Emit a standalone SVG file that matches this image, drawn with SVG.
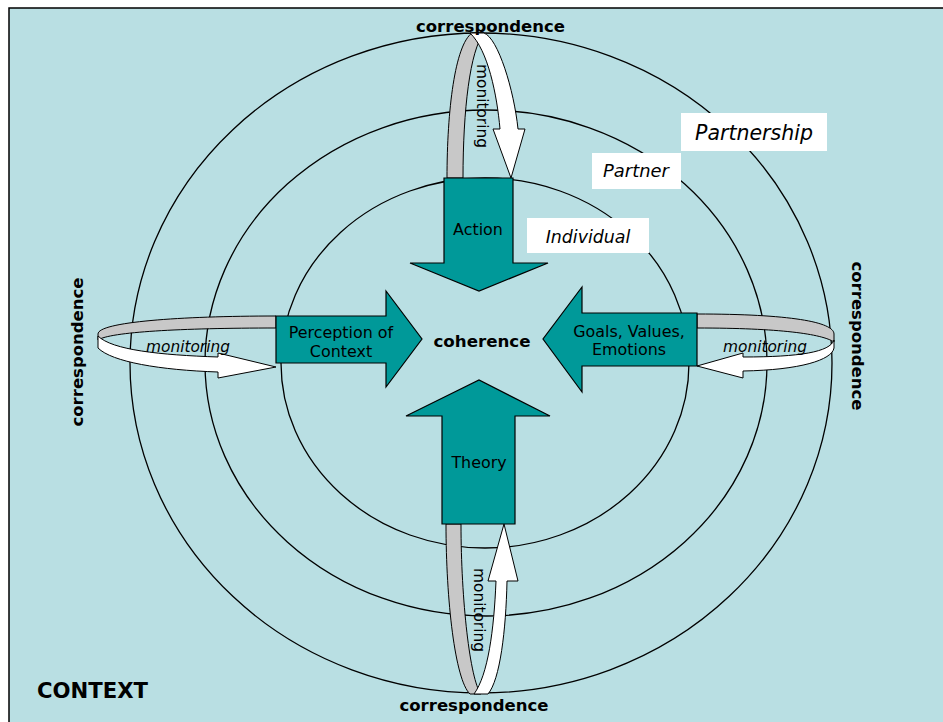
<svg xmlns="http://www.w3.org/2000/svg" width="943" height="722" viewBox="0 0 943 722">
<style>
.ring{fill:none;stroke:#000;stroke-width:1.3}
.arrow{fill:#009999;stroke:#000;stroke-width:1.2}
.back{fill:#C8C8C8;stroke:#000;stroke-width:1}
.front{fill:#FFFFFF;stroke:#000;stroke-width:1}
.lbl{fill:#FFFFFF;stroke:none}
text{font-family:"DejaVu Sans","Liberation Sans",sans-serif;fill:#000}
.corr{font-weight:bold;font-size:16.5px}
.box{font-size:15.9px}
.mon{font-size:15.4px}
.it{font-style:italic}
</style>
<rect x="9" y="8" width="950" height="730" fill="#B9DFE3" stroke="#000" stroke-width="1.5"/>
<g id="rings">
<ellipse id="ring-partnership" class="ring" cx="481" cy="363" rx="351" ry="330"/>
<ellipse id="ring-partner" class="ring" cx="486" cy="363" rx="281" ry="253"/>
<ellipse id="ring-individual" class="ring" cx="485" cy="363" rx="204" ry="185"/>
</g>
<g id="connectors">
<g id="loop-top">
<path class="back" d="M447,178 C447,110 455,45 472,33 L484,33 C470,50 463,110 463,178 Z"/>
<path class="front" d="M470,33 L484,33 C498,38 514,90 518,129 L525,129 L511,178 L493,129 L500,129 C497,95 488,50 470,33 Z"/>
</g>
<g id="loop-bottom">
<path class="back" d="M446,524 C446,600 455,680 470,694 L481,694 C470,680 461,600 461,524 Z"/>
<path class="front" d="M474,694 L488,694 C500,680 506,630 507,581 L518,581 L504,524 L488,581 L496,581 C494,630 488,675 474,694 Z"/>
</g>
<g id="loop-left">
<path class="back" d="M276,316 C180,316 98,322 98,334 L98,340 C110,332 180,328 276,328 Z"/>
<path class="front" d="M98,336 L98,348 C112,362 160,370 218,372 L218,378 L276,367 L218,353 L218,357 C160,355 112,350 98,336 Z"/>
</g>
<g id="loop-right">
<path class="back" d="M697,314 C790,314 834,322 834,334 L834,342 C822,334 780,328 697,328 Z"/>
<path class="front" d="M834,340 C830,352 800,357 743,357 L743,353 L697,366 L743,378 L743,371 C800,370 832,360 834,348 Z"/>
</g>
</g>
<g id="node-action">
<path class="arrow" d="M444,178 L513,178 L513,263 L548,263 L479,291 L410,263 L444,263 Z"/>
<text class="box" x="478" y="235" text-anchor="middle">Action</text>
</g>
<g id="node-theory">
<path class="arrow" d="M442,524 L515,524 L515,416 L550,416 L479,380 L406,416 L442,416 Z"/>
<text class="box" x="479" y="468" text-anchor="middle">Theory</text>
</g>
<g id="node-perception">
<path class="arrow" d="M276,316 L386,316 L386,291 L422,339 L386,387 L386,363 L276,363 Z"/>
<text class="box" x="341" y="338" text-anchor="middle">Perception of</text>
<text class="box" x="341" y="357" text-anchor="middle">Context</text>
</g>
<g id="node-goals">
<path class="arrow" d="M697,313 L582,313 L582,287 L543,339 L582,392 L582,366 L697,366 Z"/>
<text class="box" x="629" y="337" text-anchor="middle">Goals, Values,</text>
<text class="box" x="629" y="355" text-anchor="middle">Emotions</text>
</g>
<g id="node-coherence">
<text x="482" y="347" text-anchor="middle" font-weight="bold" font-size="16.7">coherence</text>
</g>
<g id="label-partnership">
<rect class="lbl" x="681" y="113" width="146" height="38"/>
<text class="it" x="754" y="140" text-anchor="middle" font-size="20.5">Partnership</text>
</g>
<g id="label-partner">
<rect class="lbl" x="592" y="153" width="89" height="36"/>
<text class="it" x="636" y="177" text-anchor="middle" font-size="17.9">Partner</text>
</g>
<g id="label-individual">
<rect class="lbl" x="527" y="218" width="122" height="35"/>
<text class="it" x="588" y="243" text-anchor="middle" font-size="17.4">Individual</text>
</g>
<g id="texts">
<text class="corr" x="490.5" y="32" text-anchor="middle">correspondence</text>
<text class="corr" x="474" y="711" text-anchor="middle">correspondence</text>
<text class="corr" transform="translate(83,352) rotate(-90)" text-anchor="middle">correspondence</text>
<text class="corr" transform="translate(852,336) rotate(90)" text-anchor="middle">correspondence</text>
<text class="mon" transform="translate(477,106) rotate(90)" text-anchor="middle">monitoring</text>
<text class="mon" transform="translate(474,610) rotate(90)" text-anchor="middle">monitoring</text>
<text class="mon it" x="188" y="352" text-anchor="middle">monitoring</text>
<text class="mon it" x="765" y="352" text-anchor="middle">monitoring</text>
<text x="37" y="698" font-weight="bold" font-size="21.2">CONTEXT</text>
</g>
</svg>
